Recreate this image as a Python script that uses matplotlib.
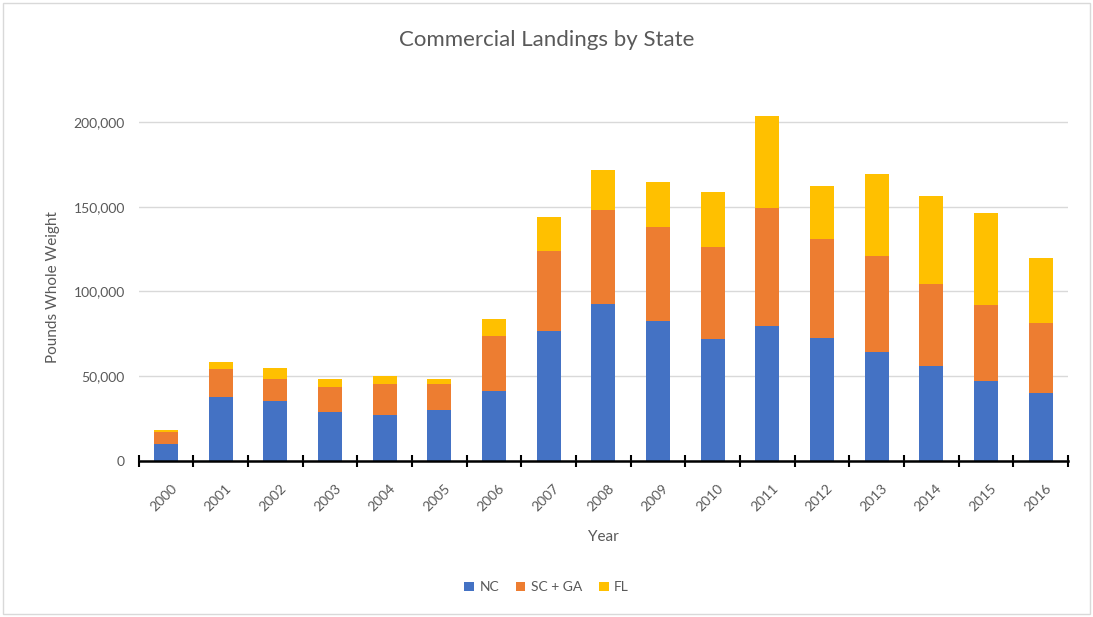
import matplotlib
matplotlib.use("Agg")
import matplotlib.pyplot as plt
import numpy as np
from matplotlib.ticker import FuncFormatter, FixedLocator
from matplotlib.patches import Rectangle

plt.rcParams['font.family'] = ['Lato', 'DejaVu Sans']

years = ['2000', '2001', '2002', '2003', '2004', '2005', '2006', '2007', '2008',
         '2009', '2010', '2011', '2012', '2013', '2014', '2015', '2016']
# pounds whole weight
nc = [10000, 37800, 35200, 29100, 26800, 30300, 41300, 76600, 92300,
      82500, 71700, 79900, 72800, 64300, 55900, 47200, 40100]
sc_ga = [7100, 16700, 13400, 14800, 18300, 14800, 32700, 47000, 55500,
         55500, 54300, 69100, 58100, 56900, 48400, 44900, 41200]
fl = [1400, 3800, 6100, 4700, 4900, 3500, 9500, 20400, 24000,
      26500, 32400, 54500, 31300, 48200, 51800, 54100, 38500]

c_nc = '#4472C4'
c_sc = '#ED7D31'
c_fl = '#FFC000'
grey = '#595959'

fig = plt.figure(figsize=(10.93, 6.17), dpi=100)
ax = fig.add_axes([0.127, 0.253, 0.850, 0.563])

x = np.arange(len(years))
w = 0.44
nc_a = np.array(nc)
sc_a = np.array(sc_ga)
fl_a = np.array(fl)
ax.bar(x, nc_a, w, color=c_nc, label='NC', zorder=3)
ax.bar(x, sc_a, w, bottom=nc_a, color=c_sc, label='SC + GA', zorder=3)
ax.bar(x, fl_a, w, bottom=nc_a + sc_a, color=c_fl, label='FL', zorder=3)

ax.set_xlim(-0.5, len(years) - 0.5)
ax.set_ylim(0, 205000)
ax.set_yticks([0, 50000, 100000, 150000, 200000])
ax.yaxis.set_major_formatter(FuncFormatter(lambda v, p: f'{int(v):,}'))
ax.grid(axis='y', color='#d9d9d9', linewidth=1, zorder=0)
ax.tick_params(axis='y', length=0, labelsize=10, labelcolor=grey, pad=10)

ax.set_xticks(x + 0.08)
ax.set_xticklabels(years, rotation=45, ha='right', rotation_mode='anchor')
ax.tick_params(axis='x', which='major', length=0, labelsize=10,
               labelcolor=grey, pad=15)
ax.xaxis.set_minor_locator(FixedLocator(np.arange(-0.5, len(years), 1)))
ax.tick_params(axis='x', which='minor', direction='inout', length=9,
               width=1.5, color='black')

for s in ['top', 'right', 'left']:
    ax.spines[s].set_visible(False)
ax.spines['bottom'].set_color('black')
ax.spines['bottom'].set_linewidth(1.8)
ax.spines['bottom'].set_zorder(4)

ax.set_ylabel('Pounds Whole Weight', fontsize=11, color=grey, labelpad=10)
ax.set_xlabel('Year', fontsize=11, color=grey, labelpad=12)
fig.text(0.5, 0.935, 'Commercial Landings by State', ha='center',
         va='center', fontsize=16, color=grey)

ax.legend(loc='center', bbox_to_anchor=(0.5, 0.048), bbox_transform=fig.transFigure,
          ncol=3, frameon=False, fontsize=10, labelcolor=grey,
          handlelength=0.7, handleheight=0.7, handletextpad=0.4, columnspacing=1.2)

fig.patches.append(Rectangle((0.003, 0.005), 0.994, 0.99, transform=fig.transFigure,
                             fill=False, edgecolor='#d9d9d9', linewidth=1))

fig.savefig('out.png', dpi=100)
